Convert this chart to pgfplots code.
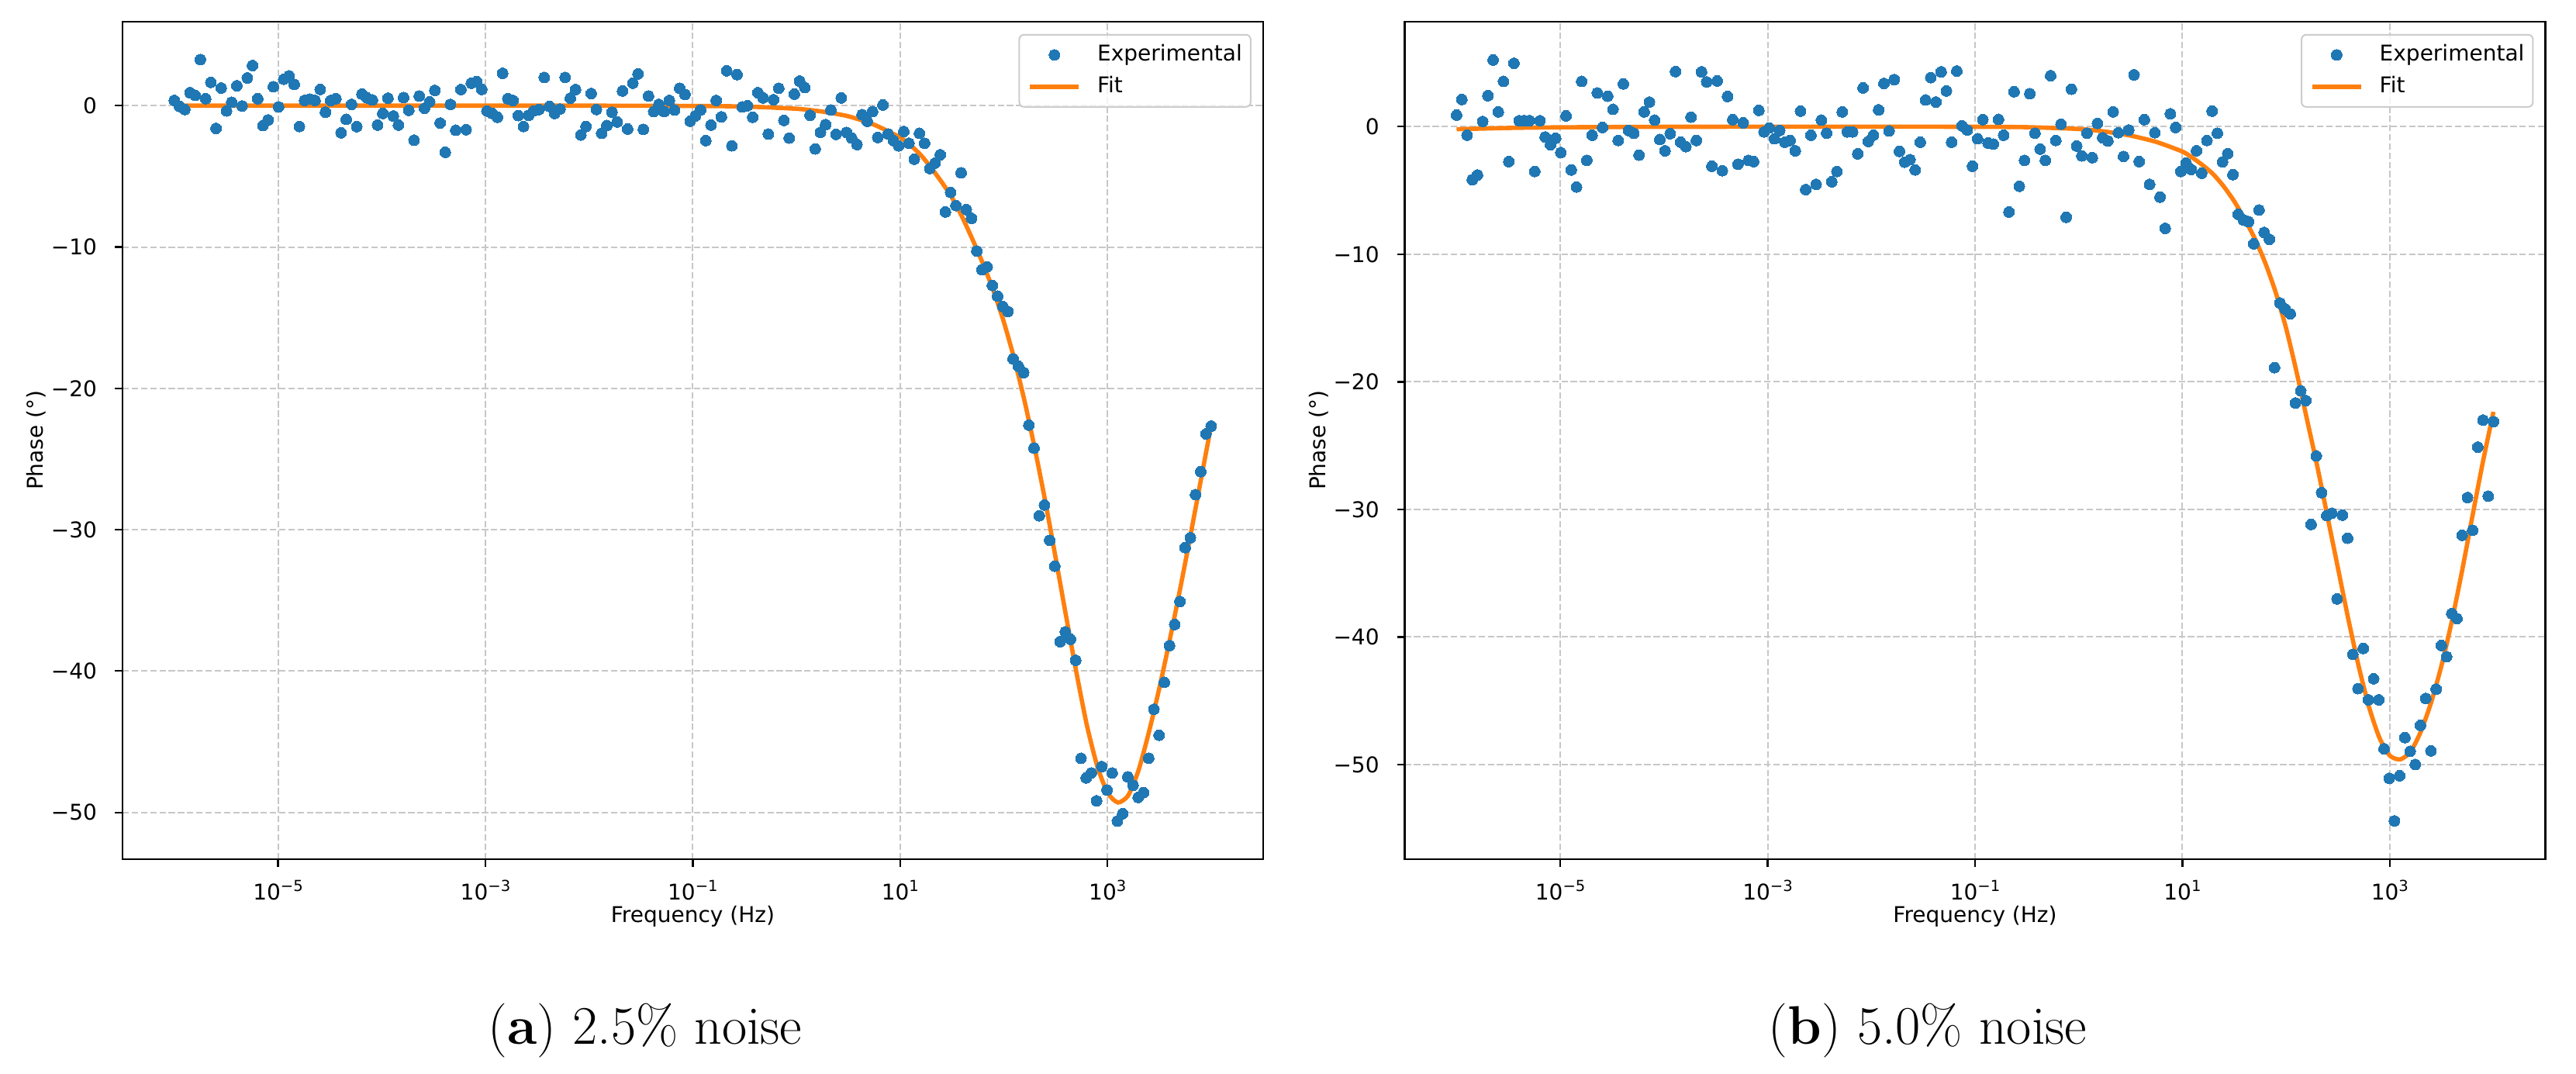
\documentclass[border=0pt]{standalone}
\usepackage{fontspec}
\usepackage{pgfplots}
\pgfplotsset{compat=1.18}
\usepackage{pgfplotstable}
\newfontfamily\dejavu{DejaVu Sans}
\definecolor{cblue}{HTML}{1F77B4}
\definecolor{corange}{HTML}{FF7F0E}
\definecolor{gridgray}{gray}{0.78}
\definecolor{leggray}{gray}{0.8}
\newcommand\tenp[1]{10\raisebox{2.7pt}{\fontsize{4.9}{4.9}\selectfont #1}}

% e = log10(frequency / Hz); pa = phase, 2.5% noise; pb = phase, 5.0% noise
\pgfplotstableread{
e pa pb
-6.000 0.37 0.91
-5.950 -0.05 2.13
-5.899 -0.27 -0.67
-5.849 0.92 -4.16
-5.799 0.73 -3.79
-5.749 3.26 0.41
-5.698 0.49 2.43
-5.648 1.65 5.23
-5.598 -1.61 1.16
-5.548 1.25 3.55
-5.497 -0.37 -2.74
-5.447 0.24 4.97
-5.397 1.41 0.47
-5.347 -0.02 0.47
-5.296 1.96 0.47
-5.246 2.84 -3.51
-5.196 0.49 0.47
-5.146 -1.41 -0.81
-5.095 -1.01 -1.42
-5.045 1.34 -0.91
-4.995 -0.09 -2.03
-4.945 1.87 0.85
-4.894 2.11 -3.39
-4.844 1.50 -4.73
-4.794 -1.47 3.55
-4.744 0.37 -2.64
-4.693 0.46 -0.67
-4.643 0.37 2.64
-4.593 1.15 -0.06
-4.543 -0.46 2.39
-4.492 0.37 1.36
-4.442 0.49 -1.08
-4.392 -1.92 3.35
-4.342 -0.97 -0.30
-4.291 0.09 -0.51
-4.241 -1.48 -2.23
-4.191 0.82 1.16
-4.141 0.55 1.93
-4.090 0.40 0.51
-4.040 -1.37 -1.01
-3.990 -0.55 -1.89
-3.940 0.53 -0.55
-3.889 -0.73 4.32
-3.839 -1.37 -1.22
-3.789 0.57 -1.56
-3.739 -0.33 0.75
-3.688 -2.44 -1.08
-3.638 0.68 4.30
-3.588 -0.18 3.51
-3.538 0.27 -3.10
-3.487 1.08 3.59
-3.437 -1.23 -3.45
-3.387 -3.30 2.37
-3.337 0.09 0.55
-3.286 -1.74 -2.94
-3.236 1.14 0.30
-3.186 -1.70 -2.64
-3.136 1.59 -2.74
-3.085 1.70 1.28
-3.035 1.15 -0.41
-2.985 -0.37 -0.10
-2.935 -0.55 -0.95
-2.884 -0.82 -0.30
-2.834 2.29 -1.22
-2.784 0.49 -1.08
-2.734 0.37 -1.89
-2.683 -0.70 1.22
-2.633 -1.47 -4.93
-2.583 -0.68 -0.67
-2.533 -0.37 -4.52
-2.482 -0.27 0.51
-2.432 2.00 -0.51
-2.382 -0.05 -4.32
-2.332 -0.55 -3.51
-2.281 -0.24 1.16
-2.231 2.00 -0.41
-2.181 0.53 -0.41
-2.131 1.14 -2.13
-2.080 -2.07 3.04
-2.030 -1.47 -1.16
-1.980 0.86 -0.67
-1.930 -0.27 1.32
-1.879 -1.96 3.39
-1.829 -1.41 -0.34
-1.779 -0.46 3.69
-1.729 -1.15 -1.93
-1.678 1.04 -2.78
-1.628 -1.65 -2.58
-1.578 1.59 -3.39
-1.528 2.25 -1.22
-1.477 -1.68 2.09
-1.427 0.68 3.85
-1.377 -0.42 1.93
-1.327 0.09 4.30
-1.276 -0.42 2.80
-1.226 0.37 -1.22
-1.176 -0.31 4.36
-1.126 1.23 0.06
-1.075 0.79 -0.26
-1.025 -1.10 -3.10
-0.975 -0.73 -0.95
-0.925 -0.31 0.55
-0.874 -2.47 -1.28
-0.824 -1.37 -1.36
-0.774 0.37 0.57
-0.724 -0.79 -0.67
-0.673 2.47 -6.69
-0.623 -2.84 2.74
-0.573 2.20 -4.67
-0.523 -0.09 -2.64
-0.472 0.00 2.58
-0.422 -0.82 -0.51
-0.372 0.92 -1.76
-0.322 0.55 -2.64
-0.271 -2.01 4.00
-0.221 0.42 -1.08
-0.171 1.23 0.20
-0.121 -1.04 -7.10
-0.070 -2.29 2.94
-0.020 0.82 -1.52
0.030 1.74 -2.29
0.080 1.28 -0.51
0.131 -0.68 -2.43
0.181 -3.06 0.26
0.231 -1.89 -0.87
0.281 -1.34 -1.12
0.332 -0.31 1.16
0.382 -2.03 -0.47
0.432 0.55 -2.33
0.482 -1.89 -0.26
0.533 -2.29 4.06
0.583 -2.75 -2.74
0.633 -0.64 0.55
0.683 -1.10 -4.52
0.734 -0.42 -0.47
0.784 -2.25 -5.52
0.834 0.05 -7.97
0.884 -2.01 1.01
0.935 -2.47 -0.06
0.985 -2.84 -3.51
1.035 -1.83 -2.84
1.085 -2.66 -3.35
1.136 -3.79 -1.89
1.186 -1.96 -3.65
1.236 -2.66 -1.08
1.286 -4.45 1.22
1.337 -4.06 -0.51
1.387 -3.47 -2.76
1.437 -7.52 -2.11
1.487 -6.14 -3.76
1.538 -7.07 -6.87
1.588 -4.75 -7.30
1.638 -7.35 -7.45
1.688 -7.97 -9.18
1.739 -10.29 -6.53
1.789 -11.61 -8.29
1.839 -11.40 -8.83
1.889 -12.72 -18.89
1.940 -13.48 -13.82
1.990 -14.21 -14.29
2.040 -14.56 -14.67
2.090 -17.92 -21.66
2.141 -18.44 -20.70
2.191 -18.89 -21.47
2.241 -22.60 -31.18
2.291 -24.23 -25.81
2.342 -29.01 -28.69
2.392 -28.25 -30.49
2.442 -30.75 -30.30
2.492 -32.58 -37.02
2.543 -37.92 -30.45
2.593 -37.23 -32.26
2.643 -37.75 -41.36
2.693 -39.24 -44.05
2.744 -46.17 -40.90
2.794 -47.56 -44.93
2.844 -47.21 -43.28
2.894 -49.18 -44.93
2.945 -46.76 -48.77
2.995 -48.42 -51.08
3.045 -47.21 -54.42
3.095 -50.61 -50.88
3.146 -50.09 -47.89
3.196 -47.49 -48.96
3.246 -48.08 -50.00
3.296 -48.94 -46.93
3.347 -48.60 -44.82
3.397 -46.17 -48.93
3.447 -42.70 -44.09
3.497 -44.54 -40.67
3.548 -40.80 -41.55
3.598 -38.20 -38.17
3.648 -36.71 -38.56
3.698 -35.08 -32.03
3.749 -31.27 -29.07
3.799 -30.57 -31.64
3.849 -27.52 -25.12
3.899 -25.89 -23.00
3.950 -23.22 -28.96
4.000 -22.67 -23.12
}\datatab

\pgfplotstableread{
e v
-6.0 0
-4.0 0
-2.0 0
-1.0 -0.02
-0.5 -0.06
0.0 -0.22
0.25 -0.42
0.5 -0.75
0.75 -1.35
1.0 -2.25
1.1 -2.8
1.2 -3.5
1.3 -4.4
1.4 -5.4
1.5 -6.5
1.6 -7.9
1.7 -9.5
1.8 -11.2
1.9 -13.1
2.0 -15.3
2.1 -17.9
2.2 -20.9
2.3 -24.3
2.4 -28.0
2.5 -32.0
2.6 -36.1
2.7 -40.1
2.8 -43.8
2.9 -46.7
3.0 -48.6
3.1 -49.3
3.2 -48.8
3.3 -47.0
3.4 -44.3
3.5 -41.2
3.6 -37.8
3.7 -34.2
3.8 -30.4
3.9 -26.5
4.0 -22.6
}\fita

\pgfplotstableread{
e v
-6.0 -0.20
-5.5 -0.10
-5.0 -0.05
-4.0 -0.01
-2.0 0
-1.0 -0.01
-0.5 -0.04
0.0 -0.18
0.25 -0.38
0.5 -0.70
0.75 -1.20
1.0 -1.95
1.1 -2.45
1.2 -3.05
1.3 -3.75
1.4 -4.7
1.5 -5.85
1.6 -7.25
1.7 -8.8
1.8 -10.7
1.9 -13.0
2.0 -15.8
2.1 -19.2
2.2 -22.9
2.3 -26.6
2.4 -30.6
2.5 -34.6
2.6 -38.6
2.7 -42.3
2.8 -45.5
2.9 -47.9
3.0 -49.3
3.1 -49.6
3.2 -49.0
3.3 -47.4
3.4 -45.1
3.5 -42.2
3.6 -38.7
3.7 -34.7
3.8 -30.4
3.9 -26.2
4.0 -22.35
}\fitb

\pgfplotsset{
  phase/.style={
    scale only axis, width=367.7pt, height=270pt,
    xmin=-6.5, xmax=4.5,
    xtick={-5,-3,-1,1,3},
    xticklabels={\tenp{−5},\tenp{−3},\tenp{−1},\tenp{1},\tenp{3}},
    ytick={-50,-40,-30,-20,-10,0},
    yticklabels={−50,−40,−30,−20,−10,0},
    minor tick num=0,
    tick align=outside, xtick pos=bottom, ytick pos=left,
    major tick length=2.45pt,
    tick style={black, line width=0.56pt},
    axis line style={black, line width=0.56pt},
    grid=major,
    major grid style={gridgray, line width=0.5pt, dash pattern=on 2.07pt off 0.9pt},
    tick label style={font=\dejavu\fontsize{7}{8}\selectfont},
    xticklabel style={anchor=base, inner sep=0pt, yshift=-10.75pt},
    yticklabel style={anchor=east, inner sep=0pt, xshift=-5.6pt},
    label style={font=\dejavu\fontsize{7}{8}\selectfont},
    xlabel={Frequency (Hz)}, ylabel={Phase (°)},
    xlabel style={at={(axis description cs:0.5,-0.0685)}, anchor=center},
    ylabel style={at={(axis description cs:-0.0755,0.5)}, anchor=center},
    legend cell align=left,
    legend image code/.code={\draw[mark repeat=2,mark phase=2,##1,opacity=1] plot coordinates {(0pt,0pt) (7.875pt,0pt) (15.75pt,0pt)};},
    legend style={at={(axis description cs:1,1)}, anchor=north east,
      xshift=-3.75pt, yshift=-4pt, draw=leggray, fill=white,
      fill opacity=0.8, text opacity=1, rounded corners=1.5pt,
      line width=0.5pt, font=\dejavu\fontsize{7}{8}\selectfont,
      inner xsep=2.75pt, inner ysep=3pt, row sep=3.25pt,
      nodes={inner sep=0pt, text height=5.3pt, text depth=1.7pt},
      /tikz/every odd column/.append style={column sep=5.25pt}},
  }
}

\begin{document}
\begin{tikzpicture}
\useasboundingbox (0,0) rectangle (830.5pt,-346pt);
\begin{axis}[phase, at={(39.5pt,-6.95pt)}, anchor=north west,
  ymin=-53.30, ymax=5.95]
\addplot[only marks, mark=*, mark size=1.75pt, color=cblue,
  mark options={draw=cblue, fill=cblue, line width=0pt}] table[x=e,y=pa]{\datatab};
\addlegendentry{Experimental}
\addplot[corange, line width=1.4pt, smooth, tension=0.4] table[x=e,y=v]{\fita};
\addlegendentry{Fit}
\end{axis}
\begin{axis}[phase, at={(452.9pt,-6.95pt)}, anchor=north west,
  ymin=-57.41, ymax=8.24]
\addplot[only marks, mark=*, mark size=1.75pt, color=cblue,
  mark options={draw=cblue, fill=cblue, line width=0pt}] table[x=e,y=pb]{\datatab};
\addlegendentry{Experimental}
\addplot[corange, line width=1.4pt, smooth, tension=0.4] table[x=e,y=v]{\fitb};
\addlegendentry{Fit}
\end{axis}
\node[anchor=base, font=\fontsize{17.5}{21}\selectfont] at (208pt,-336.5pt) {(\textbf{a}) 2.5\% noise};
\node[anchor=base, font=\fontsize{17.5}{21}\selectfont] at (621.5pt,-336.5pt) {(\textbf{b}) 5.0\% noise};
\end{tikzpicture}
\end{document}
